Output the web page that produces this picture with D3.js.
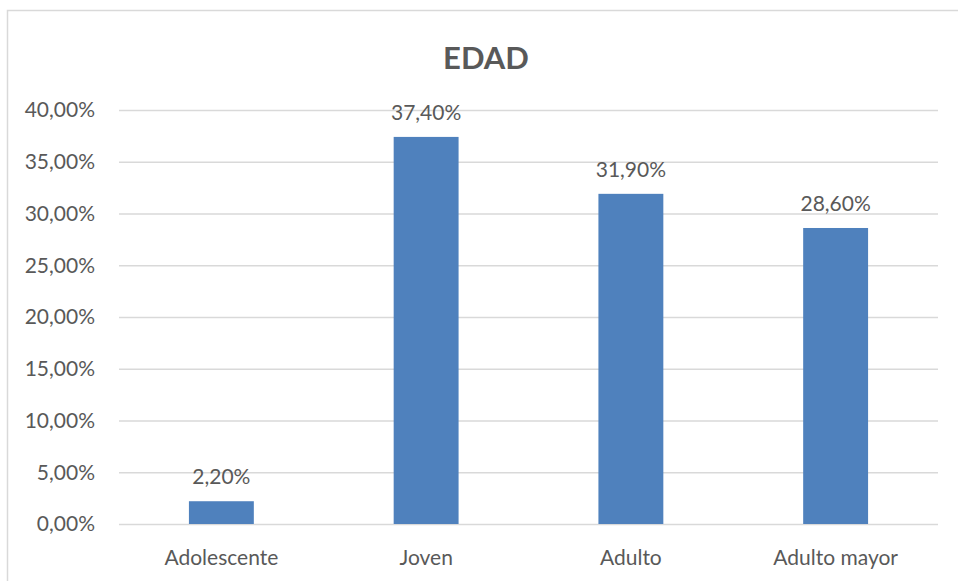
<!DOCTYPE html>
<html>
<head>
<meta charset="utf-8">
<script src="https://cdn.jsdelivr.net/npm/d3@7"></script>
<style>
  body { margin: 0; background: #fff; }
  text { font-family: Lato, "Liberation Sans", sans-serif; fill: #595959; }
</style>
</head>
<body>
<svg id="chart"></svg>
<script>
const categories = ["Adolescente", "Joven", "Adulto", "Adulto mayor"];
const values = [2.2, 37.4, 31.9, 28.6];
const yTicks = [0, 5, 10, 15, 20, 25, 30, 35, 40];
const title = "EDAD";

const width = 958;
const height = 581;
const margin = { top: 110, right: 20, bottom: 57, left: 119 };

const svg = d3.select("#chart").attr("width", width).attr("height", height);

// frame (only top and left show in the crop)
svg.append("path")
  .attr("d", `M7.5,${height} V10.5 H${width}`)
  .attr("fill", "none")
  .attr("stroke", "#d9d9d9")
  .attr("stroke-width", 1.5);

const fmt = (v) => v.toFixed(2).replace(".", ",") + "%";

const x = d3.scaleBand()
  .domain(categories)
  .range([margin.left, width - margin.right])
  .paddingInner(0.683)
  .paddingOuter(0.3415);

const y = d3.scaleLinear()
  .domain([0, 40])
  .range([height - margin.bottom, margin.top]);

// gridlines
svg.append("g")
  .selectAll("line")
  .data(yTicks)
  .join("line")
  .attr("x1", margin.left)
  .attr("x2", width - margin.right)
  .attr("y1", (d) => y(d) + 0.5)
  .attr("y2", (d) => y(d) + 0.5)
  .attr("stroke", "#d9d9d9")
  .attr("stroke-width", 1.3);

// y tick labels
svg.append("g")
  .selectAll("text")
  .data(yTicks)
  .join("text")
  .attr("x", 95)
  .attr("y", (d) => y(d))
  .attr("dy", "0.35em")
  .attr("text-anchor", "end")
  .style("font-size", "21px")
  .text(fmt);

// bars
svg.append("g")
  .selectAll("rect")
  .data(values)
  .join("rect")
  .attr("x", (d, i) => x(categories[i]))
  .attr("y", (d) => y(d))
  .attr("width", x.bandwidth())
  .attr("height", (d) => y(0) - y(d))
  .attr("fill", "#4f81bd");

// data labels
svg.append("g")
  .selectAll("text")
  .data(values)
  .join("text")
  .attr("x", (d, i) => x(categories[i]) + x.bandwidth() / 2)
  .attr("y", (d) => y(d) - 17)
  .attr("text-anchor", "middle")
  .style("font-size", "21px")
  .text(fmt);

// category labels
svg.append("g")
  .selectAll("text")
  .data(categories)
  .join("text")
  .attr("x", (d) => x(d) + x.bandwidth() / 2)
  .attr("y", height - margin.bottom + 41)
  .attr("text-anchor", "middle")
  .style("font-size", "21px")
  .text((d) => d);

// title
svg.append("text")
  .attr("x", 486)
  .attr("y", 69)
  .attr("text-anchor", "middle")
  .style("font-size", "31px")
  .style("font-weight", "bold")
  .text(title);
</script>
</body>
</html>
